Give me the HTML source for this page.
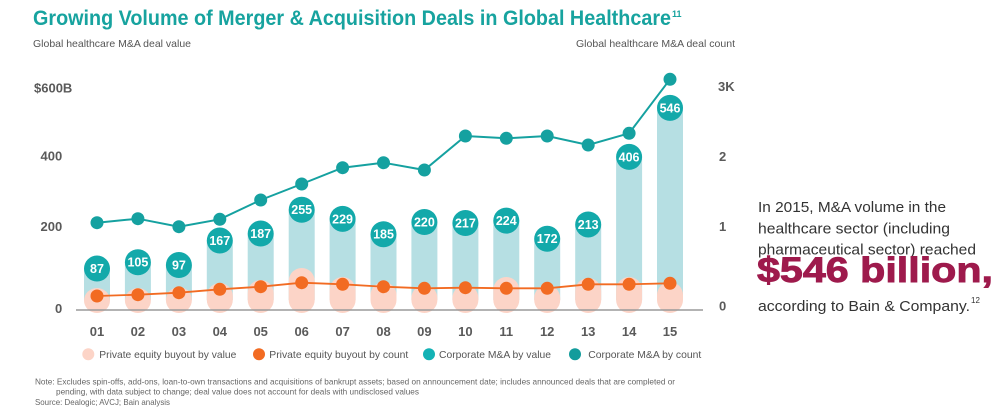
<!DOCTYPE html>
<html><head><meta charset="utf-8"><style>
html,body{margin:0;padding:0;background:#fff;}
svg{display:block;font-family:"Liberation Sans",sans-serif;}
</style></head><body>
<svg width="1008" height="419" viewBox="0 0 1008 419" xmlns="http://www.w3.org/2000/svg">
<rect width="1008" height="419" fill="#fff"/>
<!-- title -->
<text x="33" y="25" font-size="21.5" font-weight="bold" fill="#17a39f" textLength="638" lengthAdjust="spacingAndGlyphs">Growing Volume of Merger &amp; Acquisition Deals in Global Healthcare</text>
<text x="672" y="17" font-size="9" font-weight="bold" fill="#17a39f">11</text>
<text x="33" y="47" font-size="10.5" fill="#555" textLength="158" lengthAdjust="spacingAndGlyphs">Global healthcare M&amp;A deal value</text>
<text x="576" y="47" font-size="10.5" fill="#555" textLength="159" lengthAdjust="spacingAndGlyphs">Global healthcare M&amp;A deal count</text>

<!-- left axis -->
<g font-size="13" font-weight="bold" fill="#5a5a5a">
<text x="34" y="92.5">$600B</text>
<text x="40.5" y="160.5">400</text>
<text x="40.5" y="231">200</text>
<text x="55" y="313">0</text>
</g>
<!-- right axis -->
<g font-size="13" font-weight="bold" fill="#5a5a5a">
<text x="718" y="91">3K</text>
<text x="719" y="161">2</text>
<text x="719" y="231">1</text>
<text x="719" y="310.5">0</text>
</g>

<!-- teal bars -->
<g fill="#b6dfe3">
<rect x="84" y="268.55" width="26" height="31.45"/>
<rect x="124.9" y="262.25" width="26" height="37.75"/>
<rect x="165.9" y="265.05" width="26" height="34.95"/>
<rect x="206.8" y="240.55" width="26" height="59.45"/>
<rect x="247.7" y="233.55" width="26" height="66.45"/>
<rect x="288.7" y="209.75" width="26" height="90.25"/>
<rect x="329.6" y="218.85" width="26" height="81.15"/>
<rect x="370.5" y="234.25" width="26" height="65.75"/>
<rect x="411.4" y="222" width="26" height="78"/>
<rect x="452.4" y="223.05" width="26" height="76.95"/>
<rect x="493.3" y="220.6" width="26" height="79.4"/>
<rect x="534.2" y="238.8" width="26" height="61.2"/>
<rect x="575.2" y="224.45" width="26" height="75.55"/>
<rect x="616.1" y="156.9" width="26" height="143.1"/>
<rect x="657" y="107.9" width="26" height="192.1"/>
</g>
<!-- pink pills -->
<g fill="#fcd4c7">
<rect x="84" y="288" width="26" height="25" rx="13"/>
<rect x="124.9" y="288" width="26" height="25" rx="13"/>
<rect x="165.9" y="287" width="26" height="26" rx="13"/>
<rect x="206.8" y="283" width="26" height="30" rx="13"/>
<rect x="247.7" y="280" width="26" height="33" rx="13"/>
<rect x="288.7" y="268" width="26" height="45" rx="13"/>
<rect x="329.6" y="277" width="26" height="36" rx="13"/>
<rect x="370.5" y="282" width="26" height="31" rx="13"/>
<rect x="411.4" y="285" width="26" height="28" rx="13"/>
<rect x="452.4" y="285" width="26" height="28" rx="13"/>
<rect x="493.3" y="277" width="26" height="36" rx="13"/>
<rect x="534.2" y="285" width="26" height="28" rx="13"/>
<rect x="575.2" y="278" width="26" height="35" rx="13"/>
<rect x="616.1" y="277" width="26" height="36" rx="13"/>
<rect x="657" y="282" width="26" height="31" rx="13"/>
</g>

<!-- baseline -->
<line x1="76" y1="310" x2="703" y2="310" stroke="#9a9a9a" stroke-width="1.5"/>

<!-- value circles -->
<g fill="#13a9aa">
<circle cx="97" cy="268.55" r="13"/>
<circle cx="137.9" cy="262.25" r="13"/>
<circle cx="178.9" cy="265.05" r="13"/>
<circle cx="219.8" cy="240.55" r="13"/>
<circle cx="260.7" cy="233.55" r="13"/>
<circle cx="301.7" cy="209.75" r="13"/>
<circle cx="342.6" cy="218.85" r="13"/>
<circle cx="383.5" cy="234.25" r="13"/>
<circle cx="424.4" cy="222" r="13"/>
<circle cx="465.4" cy="223.05" r="13"/>
<circle cx="506.3" cy="220.6" r="13"/>
<circle cx="547.2" cy="238.8" r="13"/>
<circle cx="588.2" cy="224.45" r="13"/>
<circle cx="629.1" cy="156.9" r="13"/>
<circle cx="670" cy="107.9" r="13"/>
</g>
<g fill="#fff" font-size="12.5" font-weight="bold" text-anchor="middle">
<text x="97" y="273">87</text>
<text x="137.9" y="266.7">105</text>
<text x="178.9" y="269.5">97</text>
<text x="219.8" y="245">167</text>
<text x="260.7" y="238">187</text>
<text x="301.7" y="214.2">255</text>
<text x="342.6" y="223.3">229</text>
<text x="383.5" y="238.7">185</text>
<text x="424.4" y="226.4">220</text>
<text x="465.4" y="227.5">217</text>
<text x="506.3" y="225">224</text>
<text x="547.2" y="243.2">172</text>
<text x="588.2" y="228.9">213</text>
<text x="629.1" y="161.3">406</text>
<text x="670" y="112.3">546</text>
</g>

<!-- count line -->
<polyline fill="none" stroke="#15a1a0" stroke-width="2" points="97,222.7 137.9,218.7 178.9,226.7 219.8,219.3 260.7,200 301.7,184 342.6,167.7 383.5,162.7 424.4,170 465.4,136 506.3,138.3 547.2,136 588.2,145 629.1,133.3 670,79.3"/>
<g fill="#15a1a0">
<circle cx="97" cy="222.7" r="6.5"/>
<circle cx="137.9" cy="218.7" r="6.5"/>
<circle cx="178.9" cy="226.7" r="6.5"/>
<circle cx="219.8" cy="219.3" r="6.5"/>
<circle cx="260.7" cy="200" r="6.5"/>
<circle cx="301.7" cy="184" r="6.5"/>
<circle cx="342.6" cy="167.7" r="6.5"/>
<circle cx="383.5" cy="162.7" r="6.5"/>
<circle cx="424.4" cy="170" r="6.5"/>
<circle cx="465.4" cy="136" r="6.5"/>
<circle cx="506.3" cy="138.3" r="6.5"/>
<circle cx="547.2" cy="136" r="6.5"/>
<circle cx="588.2" cy="145" r="6.5"/>
<circle cx="629.1" cy="133.3" r="6.5"/>
<circle cx="670" cy="79.3" r="6.5"/>
</g>

<!-- orange line -->
<polyline fill="none" stroke="#f26b22" stroke-width="1.8" points="97,296 137.9,294.7 178.9,292.7 219.8,289.3 260.7,286.7 301.7,282.7 342.6,284.3 383.5,286.7 424.4,288.3 465.4,287.7 506.3,288.3 547.2,288.3 588.2,284.3 629.1,284.3 670,283.3"/>
<g fill="#f26b22">
<circle cx="97" cy="296" r="6.5"/>
<circle cx="137.9" cy="294.7" r="6.5"/>
<circle cx="178.9" cy="292.7" r="6.5"/>
<circle cx="219.8" cy="289.3" r="6.5"/>
<circle cx="260.7" cy="286.7" r="6.5"/>
<circle cx="301.7" cy="282.7" r="6.5"/>
<circle cx="342.6" cy="284.3" r="6.5"/>
<circle cx="383.5" cy="286.7" r="6.5"/>
<circle cx="424.4" cy="288.3" r="6.5"/>
<circle cx="465.4" cy="287.7" r="6.5"/>
<circle cx="506.3" cy="288.3" r="6.5"/>
<circle cx="547.2" cy="288.3" r="6.5"/>
<circle cx="588.2" cy="284.3" r="6.5"/>
<circle cx="629.1" cy="284.3" r="6.5"/>
<circle cx="670" cy="283.3" r="6.5"/>
</g>

<!-- x labels -->
<g font-size="13" font-weight="bold" fill="#5a5a5a" text-anchor="middle">
<text x="97" y="336">01</text>
<text x="137.9" y="336">02</text>
<text x="178.9" y="336">03</text>
<text x="219.8" y="336">04</text>
<text x="260.7" y="336">05</text>
<text x="301.7" y="336">06</text>
<text x="342.6" y="336">07</text>
<text x="383.5" y="336">08</text>
<text x="424.4" y="336">09</text>
<text x="465.4" y="336">10</text>
<text x="506.3" y="336">11</text>
<text x="547.2" y="336">12</text>
<text x="588.2" y="336">13</text>
<text x="629.1" y="336">14</text>
<text x="670" y="336">15</text>
</g>

<!-- legend -->
<circle cx="88.3" cy="354.3" r="6" fill="#fcd4c7"/>
<circle cx="259" cy="354.3" r="6" fill="#f26b22"/>
<circle cx="429" cy="354.3" r="6" fill="#13b2b5"/>
<circle cx="575" cy="354.3" r="6" fill="#139c9c"/>
<g font-size="10.5" fill="#555">
<text x="99.3" y="358" textLength="137" lengthAdjust="spacingAndGlyphs">Private equity buyout by value</text>
<text x="269.3" y="358" textLength="139" lengthAdjust="spacingAndGlyphs">Private equity buyout by count</text>
<text x="439" y="358" textLength="112" lengthAdjust="spacingAndGlyphs">Corporate M&amp;A by value</text>
<text x="588.3" y="358" textLength="113" lengthAdjust="spacingAndGlyphs">Corporate M&amp;A by count</text>
</g>

<!-- notes -->
<g font-size="8.2" fill="#666">
<text x="35" y="384.5" textLength="640" lengthAdjust="spacingAndGlyphs">Note: Excludes spin-offs, add-ons, loan-to-own transactions and acquisitions of bankrupt assets; based on announcement date; includes announced deals that are completed or</text>
<text x="56" y="394.5" textLength="363" lengthAdjust="spacingAndGlyphs">pending, with data subject to change; deal value does not account for deals with undisclosed values</text>
<text x="35" y="405" textLength="135" lengthAdjust="spacingAndGlyphs">Source: Dealogic; AVCJ; Bain analysis</text>
</g>

<!-- right callout -->
<g font-size="15" fill="#333">
<text x="758" y="212" textLength="188" lengthAdjust="spacingAndGlyphs">In 2015, M&amp;A volume in the</text>
<text x="758" y="233.5" textLength="192" lengthAdjust="spacingAndGlyphs">healthcare sector (including</text>
<text x="758" y="254.5" textLength="218" lengthAdjust="spacingAndGlyphs">pharmaceutical sector) reached</text>
<text x="758" y="311" textLength="212" lengthAdjust="spacingAndGlyphs">according to Bain &amp; Company.</text>
</g>
<text x="971" y="303" font-size="8" fill="#333">12</text>
<text x="757" y="282" font-size="35" font-weight="bold" fill="#9e1a4c" stroke="#9e1a4c" stroke-width="0.9" textLength="236" lengthAdjust="spacingAndGlyphs">$546 billion,</text>
</svg>
</body></html>
